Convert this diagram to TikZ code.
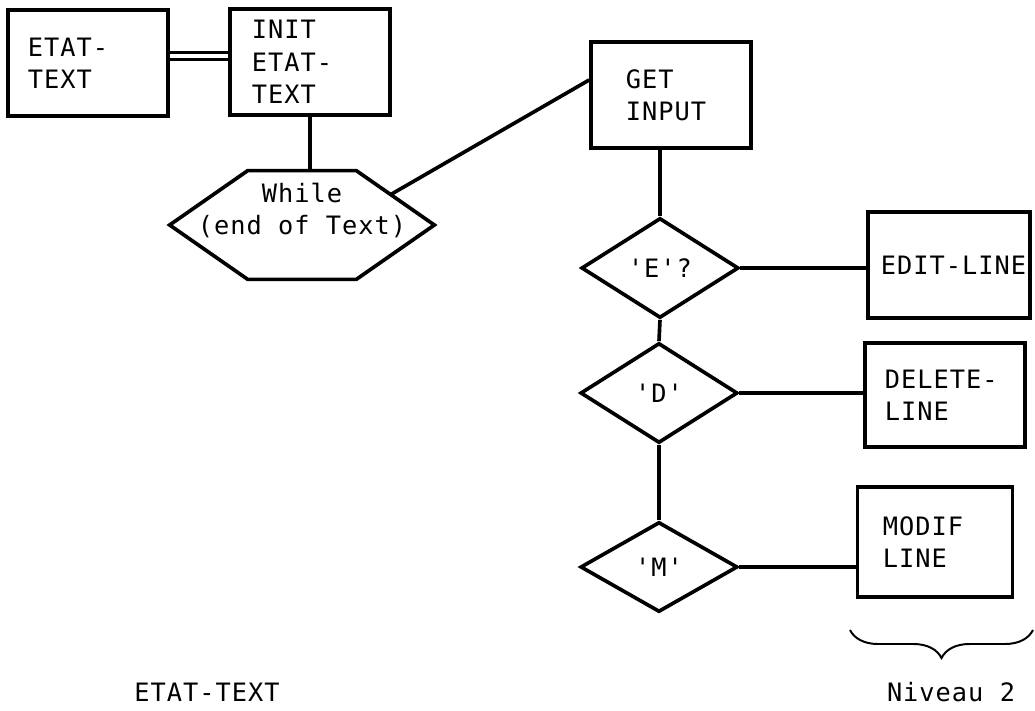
\documentclass[tikz,border=0pt]{standalone}
\usepackage{fontspec}
\setmonofont[LetterSpace=4]{DejaVu Sans Mono}
\usetikzlibrary{shapes.geometric, decorations.pathreplacing, calc}

\begin{document}
\begin{tikzpicture}[x=0.025cm, y=-0.025cm, line width=2.6pt,
                font=\ttfamily\fontsize{18}{23}\selectfont,
                bloc/.style={draw, minimum width=4cm, minimum height=2.65cm, text width=3cm, align=left, inner sep=0pt},
                test/.style={draw, diamond, minimum width=3.93cm, minimum height=2.5cm, inner sep=0pt},
                hexa/.style={minimum width=6.525cm, minimum height=2.625cm, align=center, inner sep=0pt}]

            \useasboundingbox (0, 0) rectangle (1035, 711);

            % niveau 1
            \node[bloc] (etat) at (88, 63) {ETAT-\\TEXT};
            \node[bloc, text width=2.9cm] (init) at (310, 62) {INIT\\ETAT-\\TEXT};
            \draw[double, line width=2pt, double distance=3pt] ([yshift=0.175cm]etat.east) -- ([yshift=0.175cm]etat.east -| init.west);

            % boucle
            \node[hexa] (while) at (302, 225) {While\\(end of Text)\\~};
            \coordinate (hne) at ([xshift=-1.95cm]while.north east);
            \draw ([xshift=1.95cm]while.north west) -- (hne) -- (while.east)
                  -- ([xshift=-1.95cm]while.south east) -- ([xshift=1.95cm]while.south west)
                  -- (while.west) -- cycle;
            \draw (init.south) -- (init.south |- while.north);

            \node[bloc, text width=2.25cm] (get) at (671, 95) {GET\\INPUT};
            \draw ($(hne)!0.44!(while.east)$) -- ([yshift=0.375cm]get.west);

            % tests
            \node[test] (e) at (660, 268) {'E'?};
            \node[test] (d) at (659, 393) {'D'};
            \node[test, minimum height=2.25cm] (m) at (659, 567) {'M'};
            \draw (e.north |- get.south) -- (e.north);
            \draw (e.south) -- (d.north);
            \draw (d.south) -- (m.north);

            % niveau 2
            \node[bloc, minimum width=4.05cm, text width=3.4cm] (edit) at (949, 265) {EDIT-LINE};
            \node[bloc, minimum height=2.6cm] (delete) at (945, 395) {DELETE-\\LINE};
            \node[bloc, minimum width=3.875cm, minimum height=2.75cm, text width=2.6cm] (modif) at (935, 542) {MODIF\\LINE};
            \draw (e.east) -- (e.east -| edit.west);
            \draw (d.east) -- (d.east -| delete.west);
            \draw (m.east) -- (m.east -| modif.west);

            \coordinate (b1) at (850, 630);
            \coordinate (b2) at (1033, 630);
            \draw[line width=1.4pt, decorate, decoration={brace, mirror, amplitude=0.7cm}] (b1) -- (b2);
            \node (niv) at (951, 692) {Niveau 2};
            \node (titre) at (207, 692) {ETAT-TEXT};

        \end{tikzpicture}
\end{document}
